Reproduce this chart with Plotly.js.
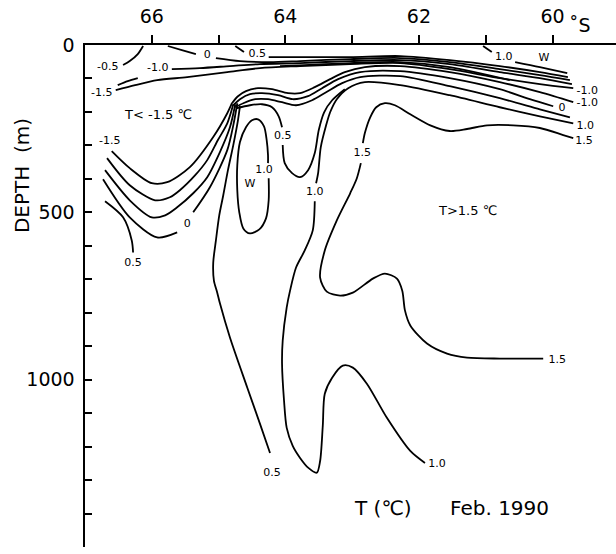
<!DOCTYPE html>
<html><head><meta charset="utf-8">
<script src="https://cdn.plot.ly/plotly-3.0.1.min.js"></script>
<style>html,body{margin:0;padding:0;background:#fff}#chart{width:616px;height:554px}</style>
</head><body><div id="chart"></div>
<script>
// ---- contour lines: latitude (deg S) and depth (m) ----
const sfcM05Lat = [66.13,66.21,66.33,66.43];
const sfcM05Dep = [3,27,48,60];
const sfc0aLat = [65.76,65.55,65.34];
const sfc0aDep = [3,15,27];
const sfc0bLat = [65.04,64.68,64.23,63.78,63.03,62.28,61.54,60.79,60.19,59.74];
const sfc0bDep = [39,48,51,48,42,39,51,72,90,105];
const sfc05aLat = [64.75,64.62];
const sfc05aDep = [3,21];
const sfc05bLat = [64.25,63.78,63.03,62.28,61.54,60.79,60.19,59.77];
const sfc05bDep = [36,36,36,33,45,63,81,96];
const w10aLat = [61.04,60.91];
const w10aDep = [3,21];
const w10bLat = [60.56,60.19,59.78];
const w10bDep = [51,66,84];
const sfcM10Lat = [65.70,65.28,64.83,64.38,63.78,63.03,62.28,61.54,60.79,60.19,59.71];
const sfcM10Dep = [72,69,63,57,54,48,45,57,81,99,117];
const sfcM15Lat = [66.54,66.25,65.92,65.47,64.87,64.38,63.78,63.03,62.28,61.54,60.79,60.19,59.69];
const sfcM15Dep = [135,120,105,96,81,69,63,57,54,72,99,117,129];
const sfcXLat = [64.08,63.03,62.28,61.54,60.64];
const sfcXDep = [63,54,51,66,105];
const shortLat = [66.51,66.36,66.21];
const shortDep = [120,108,99];

const domeALat = [64.80,64.71,64.59,64.41,64.20,63.96,63.78,63.56,63.33,63.11,62.81,62.28,61.54,60.79,60.19,59.69];
const domeADep = [174,153,138,129,132,144,144,126,102,81,66,63,81,111,141,171];
const domeBLat = [64.78,64.68,64.53,64.35,64.11,63.89,63.66,63.45,63.21,62.88,62.28,61.54,60.79,60.34,59.99];
const domeBDep = [180,162,147,144,150,162,153,129,102,81,78,99,132,162,183];
const domeCLat = [64.75,64.63,64.45,64.26,64.05,63.84,63.60,63.39,63.15,62.88,62.28,61.54,60.79,60.19,59.74];
const domeCDep = [186,174,162,162,171,180,165,141,114,96,93,123,159,192,216];

const c10aLat = [59.69,60.19,60.79,61.54,62.28,62.81,63.06,63.23,63.33,63.39,63.47,63.51,63.54];
const c10aDep = [234,213,186,150,120,111,129,162,201,240,305,383,413];
const c10bLat = [63.56,63.59,63.71,63.84,63.93,63.98,64.04,64.05,64.02,63.98,63.89,63.78,63.66,63.53,63.48,63.44,63.41,63.30,63.14,62.99,62.78,62.48,62.13,61.91];
const c10bDep = [467,554,614,665,734,784,883,952,1063,1144,1198,1234,1263,1278,1243,1138,1042,994,958,964,1012,1114,1213,1249];

const su05aLat = [64.74,64.53,64.35,64.20,64.10,64.05];
const su05aDep = [189,180,177,186,213,246];
const su05bLat = [64.04,64.01,63.90,63.78,63.66,63.56,63.50,63.42,63.30,63.11];
const su05bDep = [299,353,383,395,374,323,254,201,165,132];

const uM15Lat = [66.60,66.33,66.00,65.77,65.43,65.08,64.87,64.80];
const uM15Dep = [317,368,413,410,365,275,204,174];
const uM10Lat = [66.67,66.33,65.95,65.73,65.58,65.35,65.17,65.01,64.87,64.78];
const uM10Dep = [338,419,464,455,434,389,344,284,234,177];
const uM05Lat = [66.70,66.33,66.00,65.80,65.62,65.38,65.17,64.98,64.83,64.75];
const uM05Dep = [374,464,515,509,485,443,395,320,246,177];
const u0aLat = [66.73,66.33,65.92,65.62];
const u0aDep = [401,515,575,560];
const u0bLat = [65.38,65.13,64.87,64.78,64.72];
const u0bDep = [500,425,314,240,174];
const u05Lat = [66.70,66.43,66.30,66.28];
const u05Dep = [467,515,584,620];

const long05Lat = [64.68,64.71,64.78,64.86,64.93,64.99,65.04,65.08,65.07,65.02,64.98,64.83,64.57,64.38,64.23];
const long05Dep = [183,225,299,374,449,509,584,650,704,740,772,874,1024,1132,1219];

const wLat = [64.25,64.25,64.29,64.39,64.53,64.63,64.69,64.72,64.72,64.68,64.59,64.50,64.41,64.32,64.28,64.26,64.26];
const wDep = [398,464,518,551,563,548,500,434,359,290,246,225,222,243,284,329,353];

const c15aLat = [59.69,59.84,60.19,60.59,60.98,61.28,61.54,61.83,62.13,62.36,62.51,62.64,62.73,62.81,62.84];
const c15aDep = [278,269,248,240,240,251,257,240,207,180,174,186,216,263,293];
const c15bLat = [62.87,62.93,63.03,63.23,63.41,63.48,63.38,63.18,62.99,62.69,62.51,62.33,62.25,62.21,62.13,61.88,61.58,61.28,60.79,60.14];
const c15bDep = [353,398,443,524,614,695,737,749,740,698,683,698,734,793,838,892,922,934,937,937];

// ---- contour labels ----
const labelText = ['-0.5','0','0.5','-1.0','-1.5','1.0','W','-1.0','-1.0','0','1.0','1.5',
  '-1.5','0','0.5','0.5','1.0','W','1.0','1.5','0.5','1.0','1.5'];
const labelLat = [66.66,65.17,64.42,65.91,66.75,60.73,60.13,59.48,59.48,59.86,59.51,59.53,
  66.63,65.47,66.28,64.04,64.32,64.53,63.56,62.85,64.20,61.73,59.93];
const labelDep = [66,30,27,69,144,36,39,138,174,189,243,287,
  287,536,653,272,374,416,440,323,1281,1254,943];

// ---- axis ticks ----
const latTicks = [66,65,64,63,62,61,60];
const latTickText = ['66','','64','','62','','60'];
const depTicks = [0,100,200,300,400,500,600,700,800,900,1000,1100,1200,1300,1400,1500];
const depTickText = ['0','','','','','500','','','','','1000','','','','','1500'];

const lines = [
  [sfcM05Lat,sfcM05Dep],[sfc0aLat,sfc0aDep],[sfc0bLat,sfc0bDep],[sfc05aLat,sfc05aDep],[sfc05bLat,sfc05bDep],
  [w10aLat,w10aDep],[w10bLat,w10bDep],[sfcM10Lat,sfcM10Dep],[sfcM15Lat,sfcM15Dep],[sfcXLat,sfcXDep],[shortLat,shortDep],
  [domeALat,domeADep],[domeBLat,domeBDep],[domeCLat,domeCDep],[c10aLat,c10aDep],[c10bLat,c10bDep],
  [su05aLat,su05aDep],[su05bLat,su05bDep],[uM15Lat,uM15Dep],[uM10Lat,uM10Dep],[uM05Lat,uM05Dep],
  [u0aLat,u0aDep],[u0bLat,u0bDep],[u05Lat,u05Dep],[long05Lat,long05Dep],[wLat,wDep],[c15aLat,c15aDep],[c15bLat,c15bDep]
];

const traces = lines.map(p => ({
  type:'scatter', mode:'lines', x:p[0], y:p[1],
  line:{color:'#000', width:1.8, shape:'spline', smoothing:0.8},
  hoverinfo:'skip', cliponaxis:false
}));
traces.push({
  type:'scatter', mode:'text', x:labelLat, y:labelDep, text:labelText,
  textfont:{family:'DejaVu Sans', size:11, color:'#000'}, hoverinfo:'skip', cliponaxis:false
});

const F = 'DejaVu Sans';
const layout = {
  width:616, height:554, showlegend:false, hovermode:false,
  paper_bgcolor:'#fff', plot_bgcolor:'#fff',
  margin:{l:85, r:0, t:45, b:7},
  font:{family:F, color:'#000'},
  xaxis:{range:[67,59.05], side:'top', showline:true, linewidth:2.5, linecolor:'#000',
    showgrid:false, zeroline:false, ticks:'outside', ticklen:8, tickwidth:2, tickcolor:'#000',
    tickvals:latTicks, ticktext:latTickText, tickfont:{family:F, size:19, color:'#000'}, ticklabelstandoff:4},
  yaxis:{range:[1500,0], showline:true, linewidth:2.5, linecolor:'#000',
    showgrid:false, zeroline:false, ticks:'inside', ticklen:7, tickwidth:2, tickcolor:'#000',
    tickvals:depTicks, ticktext:depTickText, tickfont:{family:F, size:19, color:'#000'}, ticklabelstandoff:4},
  annotations:[
    {xref:'paper', yref:'paper', x:-0.1186, y:0.739, xanchor:'center', yanchor:'middle',
     text:'DEPTH  (m)', textangle:-90, showarrow:false, font:{family:F, size:20, color:'#000'}},
    {xref:'paper', yref:'paper', x:0.908, y:1.04, xanchor:'left', yanchor:'middle', text:'˚S', showarrow:false,
     font:{family:F, size:19, color:'#000'}},
    {xref:'x', yref:'y', x:65.91, y:207, xanchor:'center', yanchor:'middle', text:'T< -1.5 ℃', showarrow:false, font:{family:F, size:13, color:'#000'}},
    {xref:'x', yref:'y', x:61.27, y:494, xanchor:'center', yanchor:'middle', text:'T>1.5 ℃', showarrow:false, font:{family:F, size:13, color:'#000'}},
    {xref:'x', yref:'y', x:62.54, y:1383, xanchor:'center', yanchor:'middle', text:'T (℃)', showarrow:false, font:{family:F, size:20, color:'#000'}},
    {xref:'x', yref:'y', x:60.80, y:1383, xanchor:'center', yanchor:'middle', text:'Feb. 1990', showarrow:false, font:{family:F, size:20, color:'#000'}}
  ]
};
Plotly.newPlot('chart', traces, layout, {staticPlot:true, displayModeBar:false});
</script></body></html>
